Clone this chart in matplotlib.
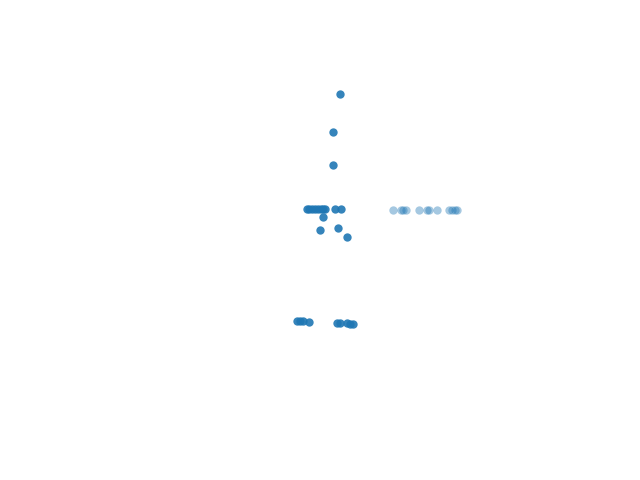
import matplotlib
matplotlib.use("Agg")
import matplotlib.pyplot as plt

# main group (opaque)
main_x = [340, 333, 333,
          307, 309, 312, 315, 318, 321, 323, 325, 335, 341,
          323, 320, 338, 347,
          297, 300, 303, 309,
          337, 340, 347, 350, 353]
main_y = [94, 132, 165,
          209, 209, 209, 209, 209, 209, 209, 209, 209, 209,
          217, 230, 228, 237,
          321, 321, 321, 322,
          323, 323, 323, 324, 324]

# faded group
faint_x = [393, 401, 403, 406, 419, 427, 429, 437, 449, 452, 455, 457]
faint_y = [210, 210, 210, 210, 210, 210, 210, 210, 210, 210, 210, 210]

fig = plt.figure(figsize=(6.4, 4.8), dpi=100)
ax = fig.add_axes([0, 0, 1, 1])
ax.scatter(main_x, main_y, s=36, color="#1f77b4", alpha=0.9, linewidths=0)
ax.scatter(faint_x, faint_y, s=36, color="#1f77b4", alpha=0.4, linewidths=0)
ax.set_xlim(0, 640)
ax.set_ylim(480, 0)
ax.axis("off")
fig.savefig("out.png", dpi=100)
